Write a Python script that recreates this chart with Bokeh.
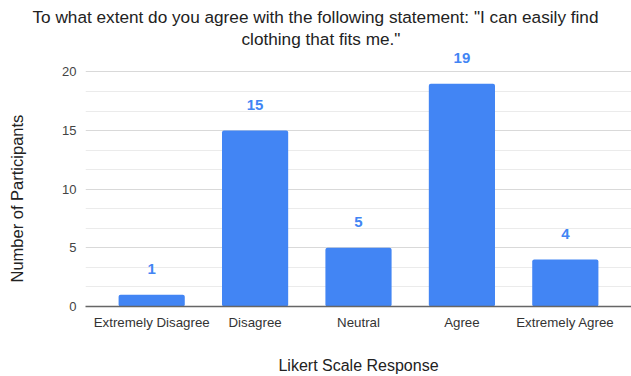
from bokeh.plotting import figure
from bokeh.models import ColumnDataSource, LabelSet, Title, FixedTicker, FactorRange, Range1d
from bokeh.core.properties import value
from bokeh.embed import file_html
from bokeh.resources import INLINE

categories = ["Extremely Disagree", "Disagree", "Neutral", "Agree", "Extremely Agree"]
counts = [1, 15, 5, 19, 4]
count_labels = [str(c) for c in counts]
y_ticks = [0, 5, 10, 15, 20]
title_lines = ['To what extent do you agree with the following statement: "I can easily find',
               'clothing that fits me."']

FONT = "Liberation Sans"
BLUE = "#4285F4"

source = ColumnDataSource(dict(cat=categories, n=counts, lab=count_labels))

p = figure(width=631, height=376, output_backend="svg", toolbar_location=None,
           x_range=FactorRange(*categories, range_padding=0.14, range_padding_units="absolute"),
           y_range=Range1d(0, 22),
           min_border_left=85, min_border_right=0, min_border_top=48, min_border_bottom=0)
p.outline_line_color = None
p.background_fill_color = "white"
p.border_fill_color = "white"

p.vbar(x="cat", top="n", width=0.64, source=source, fill_color=BLUE, line_color=None,
       border_radius=2)

labels = LabelSet(x="cat", y="n", text="lab", source=source, y_offset=26,
                  text_align="center", text_baseline="middle", text_color=BLUE,
                  text_font=value(FONT), text_font_size="15px", text_font_style="bold")
p.add_layout(labels)

minor = [t for k in range(4) for t in (5 * k + 5 / 3, 5 * k + 10 / 3)]
p.yaxis.ticker = FixedTicker(ticks=y_ticks, minor_ticks=minor)
p.ygrid.grid_line_color = "#d9d9d9"
p.ygrid.minor_grid_line_color = "#ebebeb"
p.xgrid.grid_line_color = None

p.yaxis.axis_line_color = None
p.yaxis.major_tick_line_color = None
p.yaxis.minor_tick_line_color = None
p.yaxis.major_label_text_font = FONT
p.yaxis.major_label_text_font_size = "13px"
p.yaxis.major_label_text_color = "#444444"
p.yaxis.major_label_standoff = 3
# blank axis label only reserves room so that the y title sits at the left edge
p.yaxis.axis_label = " "
p.yaxis.axis_label_text_font_size = "16px"
p.yaxis.axis_label_standoff = 14

p.xaxis.axis_line_color = "#666666"
p.xaxis.axis_line_width = 1.5
p.xaxis.major_tick_line_color = None
p.xaxis.minor_tick_line_color = None
p.xaxis.major_label_text_font = FONT
p.xaxis.major_label_text_font_size = "13.3px"
p.xaxis.major_label_text_color = "#333333"
p.xaxis.major_label_standoff = 2
p.xaxis.axis_label = "Likert Scale Response"
p.xaxis.axis_label_text_font = FONT
p.xaxis.axis_label_text_font_size = "16px"
p.xaxis.axis_label_text_font_style = "normal"
p.xaxis.axis_label_text_color = "#222222"
p.xaxis.axis_label_standoff = 24

ylab = Title(text="Number of Participants", align="left", offset=24, standoff=0,
             text_font=FONT, text_font_size="16.5px", text_font_style="normal",
             text_color="#222222")
p.add_layout(ylab, "left")

p.title.text = title_lines[0]
p.title.align = "left"
p.title.offset = -53
p.title.standoff = 0
p.title.text_font = FONT
p.title.text_font_size = "17.2px"
p.title.text_font_style = "normal"
p.title.text_color = "#222222"
p.add_layout(Title(text=title_lines[1], align="left", offset=156, standoff=0,
                   text_font=FONT, text_font_size="17.2px", text_font_style="normal",
                   text_color="#222222"), "above")

open("out.html", "w").write(file_html(p, INLINE))
